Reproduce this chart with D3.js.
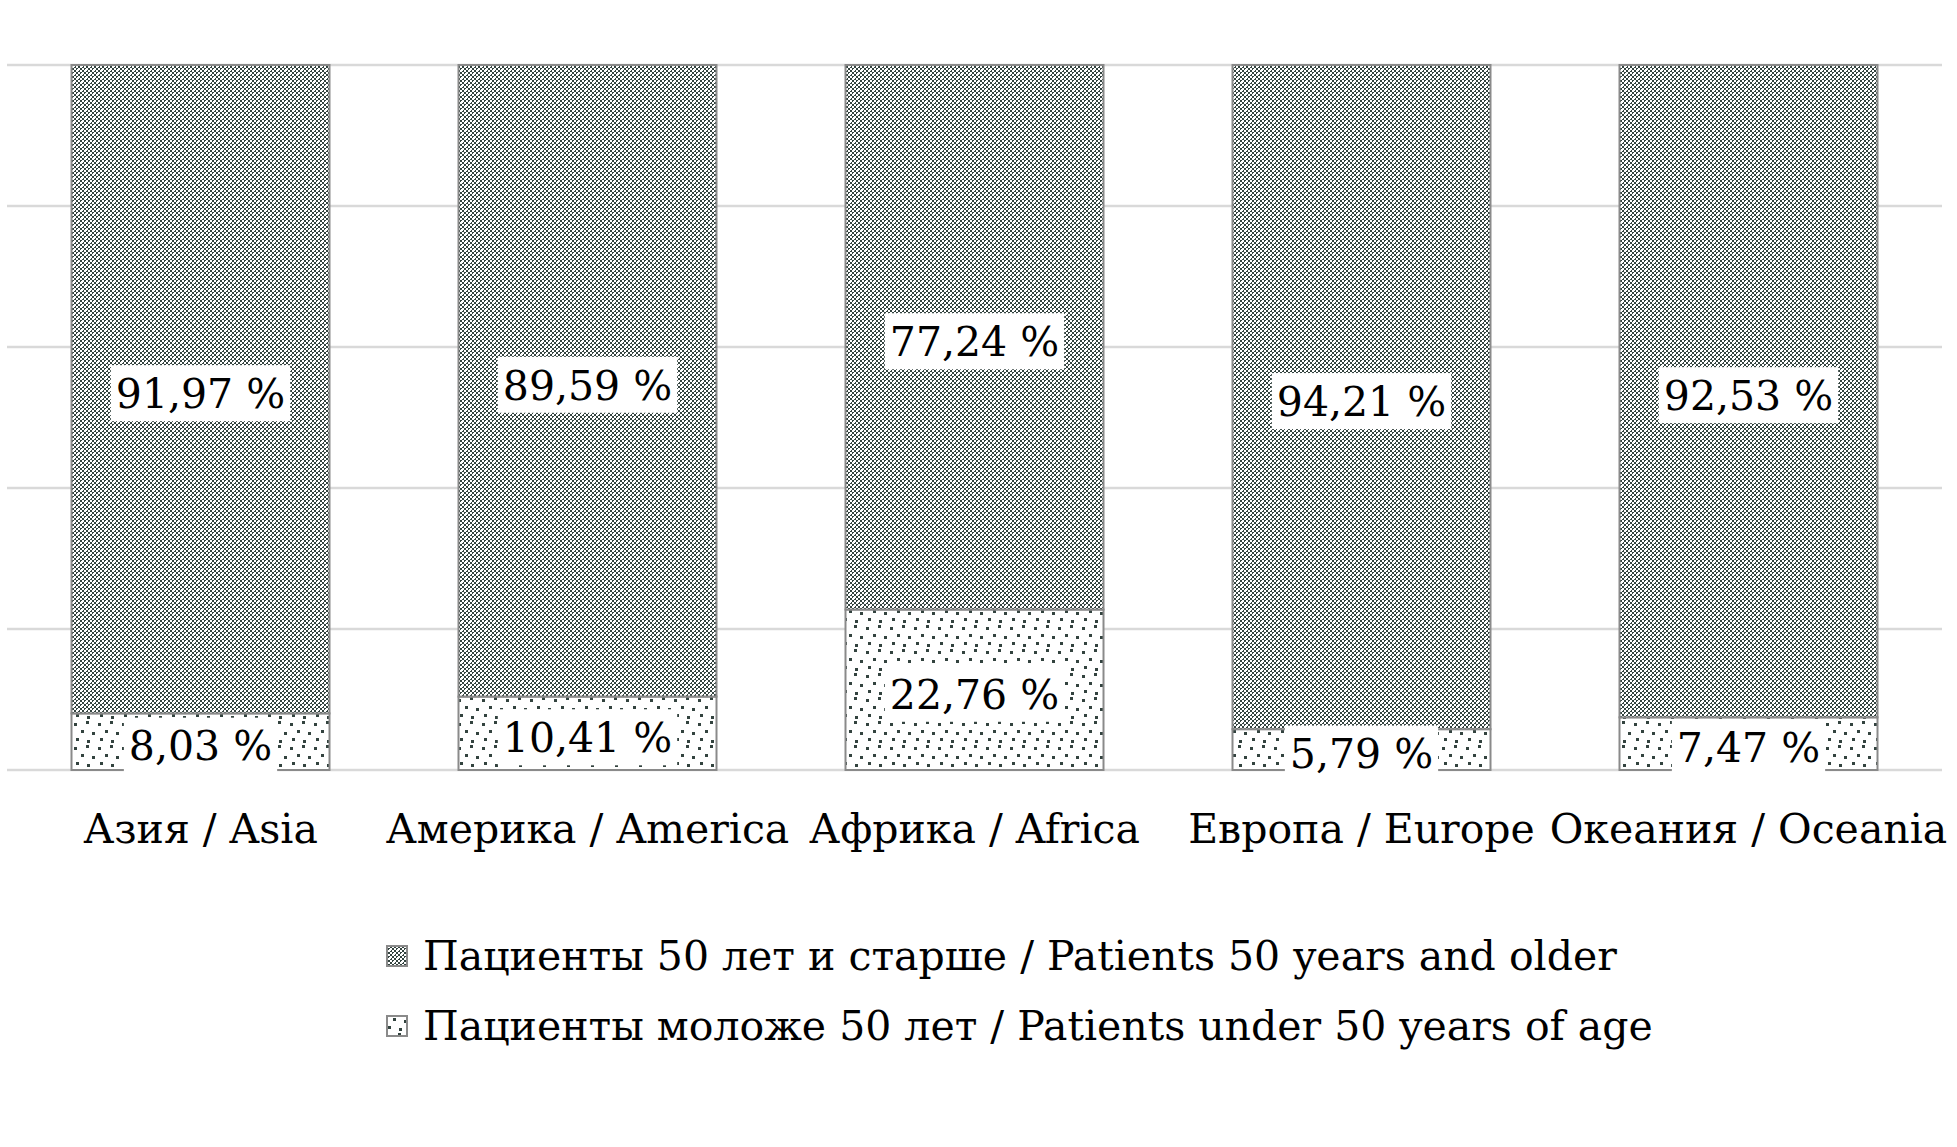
<!DOCTYPE html>
<html><head><meta charset="utf-8">
<script src="https://cdn.jsdelivr.net/npm/d3@7"></script>
<style>body{margin:0;background:#fff}svg{display:block}</style>
</head><body>
<svg id="c" width="1957" height="1147"></svg>
<script>
const categories = ["Азия / Asia", "Америка / America", "Африка / Africa", "Европа / Europe", "Океания / Oceania"];
const olderValues = [91.97, 89.59, 77.24, 94.21, 92.53];
const youngerValues = [8.03, 10.41, 22.76, 5.79, 7.47];
const seriesNames = ["Пациенты 50 лет и старше / Patients 50 years and older", "Пациенты моложе 50 лет / Patients under 50 years of age"];
const yTicks = [0, 20, 40, 60, 80, 100];

const svg = d3.select("#c");
const FONT = "DejaVu Serif";
const dark = "#33433f";

const x = d3.scaleBand().domain(categories).range([7, 1942]).paddingInner(1/3).paddingOuter(1/6);
const y = d3.scaleLinear().domain([0, 100]).range([770, 65]);

// patterns
const defs = svg.append("defs");
const p1 = defs.append("pattern").attr("id","pOld").attr("patternUnits","userSpaceOnUse").attr("width",8).attr("height",8);
p1.append("rect").attr("width",8).attr("height",8).attr("fill","#fff");
[[0,0],[4,0],[2,2],[6,2],[0,4],[4,4],[2,6],[6,6]].forEach(([a,b])=>p1.append("rect").attr("x",a).attr("y",b).attr("width",2).attr("height",2).attr("fill",dark));
[[1,1],[5,5]].forEach(([a,b])=>p1.append("rect").attr("x",a).attr("y",b).attr("width",2).attr("height",2).attr("fill","#fff"));
[[0,0],[4,4]].forEach(([a,b])=>p1.append("rect").attr("x",a).attr("y",b).attr("width",1).attr("height",1).attr("fill",dark));
const p2 = defs.append("pattern").attr("id","pYoung").attr("patternUnits","userSpaceOnUse").attr("width",24).attr("height",24);
p2.append("rect").attr("width",24).attr("height",24).attr("fill","#fff");
[[2,3],[14,1],[9,10],[20,12],[4,18],[15,20]].forEach(([a,b])=>p2.append("rect").attr("x",a).attr("y",b).attr("width",3).attr("height",3).attr("fill",dark));

// gridlines
svg.append("g").selectAll("line").data(yTicks).join("line")
  .attr("x1",7).attr("x2",1942).attr("y1",d=>y(d)).attr("y2",d=>y(d))
  .attr("stroke","#d9d9d9").attr("stroke-width",2.5);

const data = categories.map((c,i)=>({cat:c, younger:youngerValues[i], older:olderValues[i]}));
const stack = d3.stack().keys(["younger","older"])(data);
const fills = {younger:"url(#pYoung)", older:"url(#pOld)"};

const gBars = svg.append("g");
stack.forEach(layer=>{
  gBars.selectAll(null).data(layer).join("rect")
    .attr("x",d=>x(d.data.cat)).attr("width",x.bandwidth())
    .attr("y",d=>y(d[1])).attr("height",d=>y(d[0])-y(d[1]))
    .attr("fill",fills[layer.key]).attr("stroke","#8a8a8a").attr("stroke-width",2);
});

// data labels
const fs = 41;
const gLab = svg.append("g");
stack.forEach(layer=>{
  layer.forEach(d=>{
    const v = d[1]-d[0];
    const cx = x(d.data.cat)+x.bandwidth()/2;
    const cy = (y(d[0])+y(d[1]))/2 + 4;
    const g = gLab.append("g");
    const r = g.append("rect").attr("fill","#fff");
    const t = g.append("text").attr("x",cx).attr("y",cy+fs*0.36).attr("text-anchor","middle")
      .attr("font-family",FONT).attr("font-size",fs).attr("fill","#000")
      .text(v.toFixed(2).replace(".",",")+" %");
    const w = t.node().getComputedTextLength();
    r.attr("x",cx-w/2-5).attr("width",w+10).attr("y",cy-28).attr("height",56);
  });
});

// category labels
svg.append("g").selectAll("text").data(categories).join("text")
  .attr("x",d=>x(d)+x.bandwidth()/2).attr("y",843).attr("text-anchor","middle")
  .attr("font-family",FONT).attr("font-size",41).attr("fill","#000").text(d=>d);

// legend
const leg = svg.append("g");
seriesNames.forEach((n,i)=>{
  const by = 970 + i*70;
  leg.append("rect").attr("x",387).attr("y",by-24).attr("width",20).attr("height",20)
    .attr("fill",i===0?"url(#pOld)":"url(#pYoung)").attr("stroke","#8a8a8a").attr("stroke-width",2);
  leg.append("text").attr("x",423).attr("y",by).attr("font-family",FONT).attr("font-size",41).attr("fill","#000").text(n);
});
</script>
</body></html>
